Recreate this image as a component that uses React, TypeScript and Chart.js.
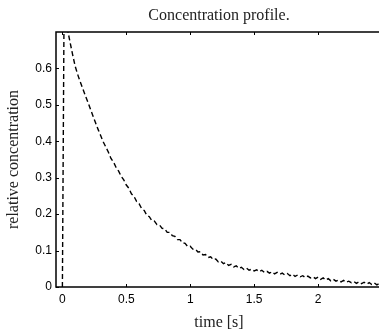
import React, { useEffect, useRef } from 'react';
import { Chart, registerables } from 'chart.js';

Chart.register(...registerables);

const titleText = 'Concentration profile.';
const xAxisTitle = 'time [s]';
const yAxisTitle = 'relative concentration';
const xTickValues = [0, 0.5, 1, 1.5, 2];
const yTickValues = [0, 0.1, 0.2, 0.3, 0.4, 0.5, 0.6];

const timeSeconds = [
  0, 0.012, 0.028, 0.044, 0.06, 0.08, 0.1, 0.12, 0.14, 0.16, 0.18, 0.2,
  0.22, 0.24, 0.26, 0.28, 0.3, 0.32, 0.34, 0.36, 0.38, 0.4, 0.42, 0.44,
  0.46, 0.48, 0.5, 0.52, 0.54, 0.56, 0.58, 0.6, 0.62, 0.64, 0.66, 0.68,
  0.7, 0.72, 0.74, 0.76, 0.78, 0.8, 0.82, 0.84, 0.86, 0.88, 0.9, 0.92,
  0.94, 0.96, 0.98, 1.0, 1.02, 1.04, 1.06, 1.08, 1.1, 1.12, 1.14, 1.16,
  1.18, 1.2, 1.22, 1.24, 1.26, 1.28, 1.3, 1.32, 1.34, 1.36, 1.38, 1.4,
  1.42, 1.44, 1.46, 1.48, 1.5, 1.52, 1.54, 1.56, 1.58, 1.6, 1.62, 1.64,
  1.66, 1.68, 1.7, 1.72, 1.74, 1.76, 1.78, 1.8, 1.82, 1.84, 1.86, 1.88,
  1.9, 1.92, 1.94, 1.96, 1.98, 2.0, 2.02, 2.04, 2.06, 2.08, 2.1, 2.12,
  2.14, 2.16, 2.18, 2.2, 2.22, 2.24, 2.26, 2.28, 2.3, 2.32, 2.34, 2.36,
  2.38, 2.4, 2.42, 2.44, 2.46, 2.48, 2.5,
];

const concentration = [
  0, 0.7, 0.74, 0.7, 0.672, 0.638, 0.606, 0.583, 0.563, 0.544, 0.525, 0.507,
  0.488, 0.469, 0.45, 0.432, 0.415, 0.398, 0.384, 0.37, 0.353, 0.343, 0.328, 0.318,
  0.304, 0.294, 0.28, 0.271, 0.256, 0.249, 0.235, 0.229, 0.215, 0.21, 0.197, 0.193,
  0.182, 0.181, 0.171, 0.17, 0.161, 0.16, 0.15, 0.15, 0.141, 0.139, 0.13, 0.13,
  0.121, 0.12, 0.111, 0.112, 0.104, 0.104, 0.096, 0.097, 0.088, 0.089, 0.081, 0.083,
  0.075, 0.077, 0.069, 0.071, 0.064, 0.067, 0.059, 0.062, 0.055, 0.058, 0.051, 0.054,
  0.048, 0.052, 0.046, 0.049, 0.044, 0.047, 0.042, 0.046, 0.04, 0.043, 0.038, 0.042,
  0.036, 0.04, 0.035, 0.038, 0.033, 0.037, 0.031, 0.035, 0.029, 0.033, 0.028, 0.031,
  0.026, 0.03, 0.025, 0.028, 0.023, 0.027, 0.021, 0.025, 0.019, 0.023, 0.017, 0.021,
  0.016, 0.019, 0.014, 0.018, 0.013, 0.016, 0.012, 0.015, 0.01, 0.014, 0.009, 0.013,
  0.008, 0.012, 0.007, 0.011, 0.006, 0.01, 0.007,
];

const framePlugin = {
  id: 'matlabFrame',
  afterDatasetsDraw(chart: any) {
    const { ctx, chartArea, scales } = chart;
    const L = Math.round(chartArea.left);
    const R = Math.round(chartArea.right);
    const T = Math.round(chartArea.top);
    const B = Math.round(chartArea.bottom);
    const len = 3;
    ctx.save();
    ctx.strokeStyle = '#000';
    ctx.lineWidth = 1.5;
    ctx.setLineDash([]);
    ctx.strokeRect(L, T, R - L, B - T);
    ctx.lineWidth = 1;
    ctx.beginPath();
    xTickValues.forEach((v) => {
      const x = Math.round(scales.x.getPixelForValue(v)) + 0.5;
      ctx.moveTo(x, B);
      ctx.lineTo(x, B - len);
      ctx.moveTo(x, T);
      ctx.lineTo(x, T + len);
    });
    yTickValues.forEach((v) => {
      const y = Math.round(scales.y.getPixelForValue(v)) + 0.5;
      ctx.moveTo(L, y);
      ctx.lineTo(L + len, y);
      ctx.moveTo(R, y);
      ctx.lineTo(R - len, y);
    });
    ctx.stroke();
    ctx.restore();
  },
};

export default function App() {
  const canvasRef = useRef<HTMLCanvasElement | null>(null);

  useEffect(() => {
    const canvas = canvasRef.current;
    if (!canvas) return;
    const chart = new Chart(canvas, {
      type: 'line',
      data: {
        datasets: [
          {
            data: timeSeconds.map((t, i) => ({ x: t, y: concentration[i] })),
            borderColor: '#000',
            borderWidth: 1.4,
            borderDash: [5, 3],
            pointRadius: 0,
            fill: false,
            tension: 0,
          },
        ],
      },
      options: {
        responsive: false,
        maintainAspectRatio: false,
        animation: false,
        devicePixelRatio: 1,
        layout: { padding: { left: 0, right: 8, top: 0, bottom: 0 } },
        plugins: {
          legend: { display: false },
          tooltip: { enabled: false },
          title: {
            display: true,
            text: titleText,
            fullSize: false,
            color: '#222',
            font: { family: 'Liberation Serif', size: 16, weight: 'normal' },
            padding: { top: 6, bottom: 6.8 },
          },
        },
        scales: {
          x: {
            type: 'linear',
            min: -0.05,
            max: 2.5,
            afterBuildTicks: (s: any) => {
              s.ticks = xTickValues.map((value) => ({ value }));
            },
            afterFit: (s: any) => {
              s.height = 48;
            },
            ticks: {
              callback: (v: any) => String(v),
              color: '#000',
              font: { family: 'Liberation Sans', size: 12 },
              padding: 5,
              maxRotation: 0,
              autoSkip: false,
            },
            grid: { display: false, drawTicks: false },
            border: { display: false },
            title: {
              display: true,
              text: xAxisTitle,
              color: '#222',
              font: { family: 'Liberation Serif', size: 16 },
              padding: { top: 0, bottom: 3 },
            },
          },
          y: {
            type: 'linear',
            min: 0,
            max: 0.7,
            afterBuildTicks: (s: any) => {
              s.ticks = yTickValues.map((value) => ({ value }));
            },
            afterFit: (s: any) => {
              s.width = 56;
            },
            ticks: {
              callback: (v: any) => String(v),
              color: '#000',
              font: { family: 'Liberation Sans', size: 12 },
              padding: 4,
              autoSkip: false,
            },
            grid: { display: false, drawTicks: false },
            border: { display: false },
            title: {
              display: true,
              text: yAxisTitle,
              color: '#222',
              font: { family: 'Liberation Serif', size: 16 },
              padding: { top: 4, bottom: 0 },
            },
          },
        },
      },
      plugins: [framePlugin],
    });
    return () => chart.destroy();
  }, []);

  return (
    <div
      style={{
        position: 'fixed',
        left: 0,
        top: 0,
        width: 379,
        height: 335,
        overflow: 'hidden',
        background: '#fff',
      }}
    >
      <canvas
        ref={canvasRef}
        width={390}
        height={335}
        style={{ display: 'block', width: 390, height: 335 }}
      />
    </div>
  );
}
